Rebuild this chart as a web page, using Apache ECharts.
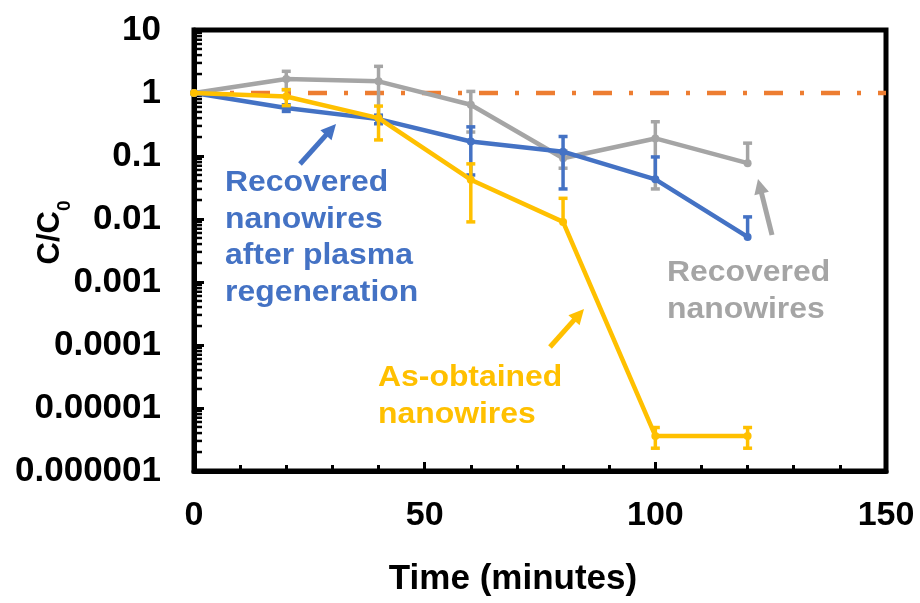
<!DOCTYPE html>
<html>
<head>
<meta charset="utf-8">
<script src="https://cdn.jsdelivr.net/npm/echarts@6/dist/echarts.min.js"></script>
<style>
  html, body { margin: 0; padding: 0; background: #fff; }
  #chart { width: 920px; height: 603px; }
</style>
</head>
<body>
<div id="chart"></div>
<script>
// Sampling times (minutes)
const times = [0, 20, 40, 60, 80, 100, 120];

// C/C0 for each material, with symmetric error magnitudes
const regenerated = [1, 0.58, 0.385, 0.17, 0.117, 0.0426, 0.0052];
const regeneratedErr = [0, 0.07, 0.06, 0.12, 0.087, 0.054, 0.0056];

const recovered = [1, 1.67, 1.53, 0.65, 0.092, 0.19, 0.077];
const recoveredErr = [0, 0.54, 1.12, 0.41, 0.028, 0.16, 0.083];

const asObtained = [1, 0.88, 0.40, 0.042, 0.009, 3.6e-6, 3.6e-6];
const asObtainedErr = [0, 0.25, 0.22, 0.033, 0.0123, 1.3e-6, 1.3e-6];

// Reference level C/C0 = 1 across the whole time range
const baselineX = [0, 150];
const baselineY = [1, 1];

// Axis tick labels
const xTickLabels = ['0', '50', '100', '150'];
const yTickLabels = ['0.000001', '0.00001', '0.0001', '0.001', '0.01', '0.1', '1', '10'];

const BLUE = '#4472C4', GRAY = '#A5A5A5', GOLD = '#FFC000', ORANGE = '#ED7D31';
const FONT = '"Liberation Sans", Arial, sans-serif';

// Minor log ticks (2..9 within each decade)
const minorY = [];
for (let k = -6; k <= 0; k++) {
  for (let m = 2; m <= 9; m++) minorY.push(m * Math.pow(10, k));
}

function pairs(xs, ys) { return xs.map((x, i) => [x, ys[i]]); }

function errorSeries(values, errs, color, z) {
  const data = times.map((t, i) => [t, values[i], errs[i]]).filter(d => d[2] > 0);
  return {
    type: 'custom',
    z: z,
    clip: false,
    silent: true,
    data: data,
    renderItem: function (params, api) {
      const t = api.value(0), v = api.value(1), e = api.value(2);
      const hi = v + e, lo = v - e;
      const pv = api.coord([t, v]);
      const ph = api.coord([t, hi]);
      const cap = 4.5;
      const style = { stroke: color, lineWidth: 3.5 };
      const children = [
        { type: 'line', shape: { x1: pv[0], y1: pv[1], x2: ph[0], y2: ph[1] }, style: style },
        { type: 'line', shape: { x1: ph[0] - cap, y1: ph[1], x2: ph[0] + cap, y2: ph[1] }, style: style }
      ];
      if (lo > 0) {
        const pl = api.coord([t, lo]);
        children.push(
          { type: 'line', shape: { x1: pv[0], y1: pv[1], x2: pl[0], y2: pl[1] }, style: style },
          { type: 'line', shape: { x1: pl[0] - cap, y1: pl[1], x2: pl[0] + cap, y2: pl[1] }, style: style }
        );
      }
      return { type: 'group', children: children };
    }
  };
}

function lineSeries(name, values, color, z) {
  return {
    name: name,
    type: 'line',
    z: z,
    clip: false,
    data: pairs(times, values),
    symbol: 'circle',
    symbolSize: 8,
    showSymbol: true,
    itemStyle: { color: color },
    lineStyle: { color: color, width: 4.5 },
    emphasis: { disabled: true }
  };
}

// Arrow made of a shaft and a triangular head, tail -> tip
function arrow(x1, y1, x2, y2, color) {
  const dx = x2 - x1, dy = y2 - y1;
  const len = Math.hypot(dx, dy);
  const ux = dx / len, uy = dy / len;
  const headLen = 15, headW = 7.5;
  const bx = x2 - ux * headLen, by = y2 - uy * headLen;
  const nx = -uy, ny = ux;
  return {
    type: 'group',
    silent: true,
    children: [
      { type: 'line', shape: { x1: x1, y1: y1, x2: bx + ux * 2, y2: by + uy * 2 },
        style: { stroke: color, lineWidth: 5 } },
      { type: 'polygon',
        shape: { points: [[x2, y2], [bx + nx * headW, by + ny * headW], [bx - nx * headW, by - ny * headW]] },
        style: { fill: color } }
    ]
  };
}

// Bold callout text, slightly widened like the axis lettering
function note(text, x, y, color) {
  return {
    type: 'text',
    x: x, y: y,
    scaleX: 1.1,
    silent: true,
    style: {
      text: text,
      fill: color,
      font: 'bold 29px ' + FONT,
      lineHeight: 36.5,
      verticalAlign: 'top'
    }
  };
}

const chart = echarts.init(document.getElementById('chart'), null, { renderer: 'canvas' });

chart.setOption({
  animation: false,
  backgroundColor: '#fff',
  grid: {
    left: 194, right: 34, top: 30, bottom: 132,
    containLabel: false,
    outerBoundsMode: 'none',
    show: true,
    borderColor: '#000',
    borderWidth: 5,
    backgroundColor: 'transparent'
  },
  xAxis: {
    type: 'value',
    min: 0, max: 150, interval: 50,
    name: 'Time (minutes)',
    nameLocation: 'middle',
    nameGap: 91,
    nameMoveOverlap: false,
    nameTextStyle: { fontFamily: FONT, fontWeight: 'bold', fontSize: 35, color: '#000', padding: [0, 54, 0, 0] },
    axisLine: { show: true, onZero: false, lineStyle: { color: '#000', width: 5 } },
    axisTick: { show: true, inside: true, length: 9, lineStyle: { color: '#000', width: 3 } },
    minorTick: { show: true, splitNumber: 5, length: 6, lineStyle: { color: '#000', width: 3 } },
    splitLine: { show: false },
    axisLabel: {
      margin: 28,
      fontFamily: FONT, fontWeight: 'bold', fontSize: 34, color: '#000',
      formatter: v => xTickLabels[Math.round(v / 50)]
    }
  },
  yAxis: {
    type: 'log',
    logBase: 10,
    min: 1e-6, max: 10,
    splitNumber: 7,
    name: '{m|C/C}{s|0}',
    nameLocation: 'middle',
    nameGap: 128,
    nameRotate: 90,
    nameMoveOverlap: false,
    nameTextStyle: {
      color: '#000',
      padding: [0, 0, 0, 36],
      rich: {
        m: { fontFamily: FONT, fontWeight: 'bold', fontSize: 31, lineHeight: 31, verticalAlign: 'top', color: '#000' },
        s: { fontFamily: FONT, fontWeight: 'bold', fontSize: 19, lineHeight: 19, padding: [20, 0, 0, 0], verticalAlign: 'top', color: '#000' }
      }
    },
    axisLine: { show: true, lineStyle: { color: '#000', width: 5 } },
    axisTick: { show: true, inside: true, length: 10, lineStyle: { color: '#000', width: 3 } },
    minorTick: { show: false },
    splitLine: { show: false },
    axisLabel: {
      margin: 33,
      fontFamily: FONT, fontWeight: 'bold', fontSize: 35, color: '#000',
      formatter: v => yTickLabels[Math.round(Math.log10(v)) + 6]
    }
  },
  series: [
    // minor log ticks on the value axis
    {
      type: 'custom',
      z: 1,
      silent: true,
      clip: false,
      data: minorY.map(v => [0, v]),
      renderItem: function (params, api) {
        const p = api.coord([0, api.value(1)]);
        return { type: 'line', shape: { x1: p[0], y1: p[1], x2: p[0] + 8, y2: p[1] },
                 style: { stroke: '#000', lineWidth: 2.5 } };
      }
    },
    {
      type: 'line',
      z: 2,
      data: pairs(baselineX, baselineY),
      symbol: 'none',
      lineStyle: { color: ORANGE, width: 4.5, type: [19, 17, 4, 17] },
      emphasis: { disabled: true }
    },
    lineSeries('Recovered nanowires', recovered, GRAY, 3),
    errorSeries(recovered, recoveredErr, GRAY, 3),
    lineSeries('Recovered nanowires after plasma regeneration', regenerated, BLUE, 4),
    errorSeries(regenerated, regeneratedErr, BLUE, 4),
    lineSeries('As-obtained nanowires', asObtained, GOLD, 5),
    errorSeries(asObtained, asObtainedErr, GOLD, 5)
  ],
  graphic: [
    note('Recovered\nnanowires\nafter plasma\nregeneration', 225, 165, BLUE),
    note('Recovered\nnanowires', 667, 255, GRAY),
    note('As-obtained\nnanowires', 378, 360, GOLD),
    arrow(300, 164, 336, 124, BLUE),
    arrow(772, 235, 758, 179, GRAY),
    arrow(550, 347, 584, 309, GOLD)
  ]
});
</script>
</body>
</html>
